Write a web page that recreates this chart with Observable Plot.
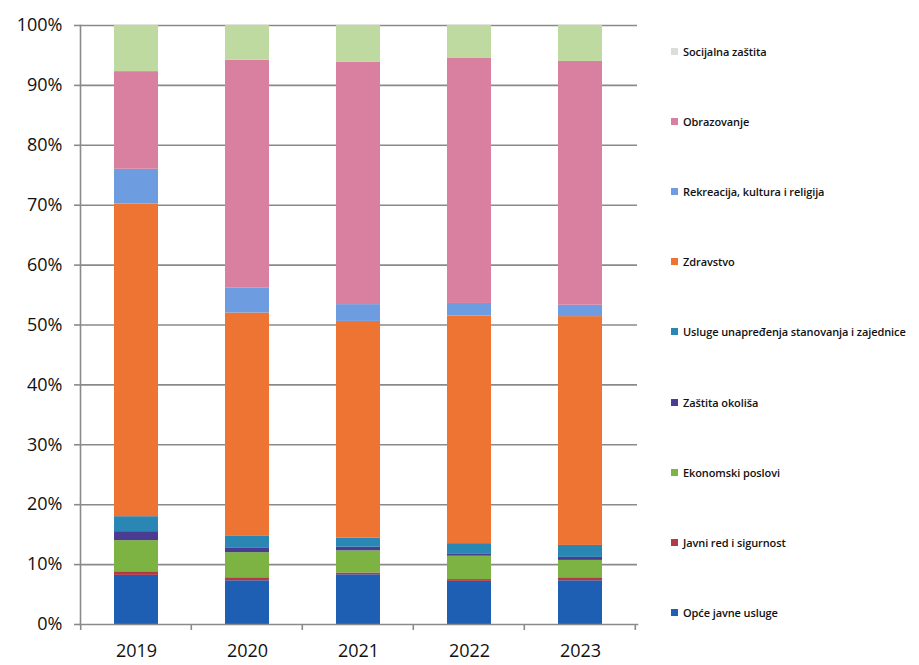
<!DOCTYPE html>
<html>
<head>
<meta charset="utf-8">
<script src="https://cdn.jsdelivr.net/npm/d3@7"></script>
<script src="https://cdn.jsdelivr.net/npm/@observablehq/plot@0.6"></script>
<style>
  html, body { margin: 0; padding: 0; background: #fff; }
  #wrap { position: relative; width: 919px; height: 665px; overflow: hidden; font-family: "Open Sans", sans-serif; }
  #chart { position: absolute; left: 0; top: 0; }
  #legend { position: absolute; left: 671px; top: 16px; }
  .item { height: 70.2px; display: flex; align-items: center; font-size: 11px; font-weight: 600; letter-spacing: -0.1px; color: #111; white-space: nowrap; }
  .sw { width: 7px; height: 7px; margin-right: 5px; flex: none; }
</style>
</head>
<body>
<div id="wrap">
  <div id="chart"></div>
  <div id="legend"></div>
</div>
<script>
const years = ["2019", "2020", "2021", "2022", "2023"];
const categories = [
  "Opće javne usluge",
  "Javni red i sigurnost",
  "Ekonomski poslovi",
  "Zaštita okoliša",
  "Usluge unapređenja stanovanja i zajednice",
  "Zdravstvo",
  "Rekreacija, kultura i religija",
  "Obrazovanje",
  "Socijalna zaštita"
];
const colors = ["#1e5eb3", "#b23a48", "#7db343", "#4b3c93", "#2a86b3", "#ee7434", "#6d9de0", "#d97f9f", "#bfdaa0"];
const legendSwatch = ["#1e5eb3", "#b23a48", "#7db343", "#4b3c93", "#2a86b3", "#ee7434", "#6d9de0", "#d97f9f", "#dcdcd8"];

const opceJavneUsluge   = [8.2, 7.3, 8.3, 7.2, 7.3];
const javniRed          = [0.6, 0.5, 0.3, 0.3, 0.5];
const ekonomskiPoslovi  = [5.2, 4.2, 3.7, 3.9, 2.9];
const zastitaOkolisa    = [1.5, 0.8, 0.6, 0.4, 0.5];
const uslugeStanovanja  = [2.5, 2.0, 1.5, 1.7, 2.0];
const zdravstvo         = [52.2, 37.2, 36.2, 38.0, 38.2];
const rekreacija        = [5.8, 4.2, 2.8, 2.1, 1.9];
const obrazovanje       = [16.3, 38.0, 40.5, 40.9, 40.7];
const socijalnaZastita  = [7.7, 5.8, 6.1, 5.5, 6.0];

const yTicks = [0, 0.1, 0.2, 0.3, 0.4, 0.5, 0.6, 0.7, 0.8, 0.9, 1.0];

const series = [opceJavneUsluge, javniRed, ekonomskiPoslovi, zastitaOkolisa, uslugeStanovanja, zdravstvo, rekreacija, obrazovanje, socijalnaZastita];
const data = [];
categories.forEach((c, i) => years.forEach((y, j) => data.push({year: y, category: c, value: series[i][j]})));

const plot = Plot.plot({
  width: 660,
  height: 665,
  marginTop: 25,
  marginBottom: 41,
  marginLeft: 80,
  marginRight: 23,
  style: {fontFamily: "Open Sans, sans-serif", color: "#111", background: "white"},
  x: {domain: years, paddingInner: 0.6, paddingOuter: 0.3, label: null},
  y: {domain: [0, 1], label: null},
  color: {domain: categories, range: colors},
  marks: [
    Plot.gridY(yTicks.filter(d => d > 0), {stroke: "#8a8a8a", strokeOpacity: 1, strokeWidth: 1.6}),
    Plot.barY(data, Plot.stackY({
      x: "year", y: "value", fill: "category", z: "category",
      order: categories, offset: "normalize"
    })),
    Plot.frame({anchor: "left", stroke: "#8a8a8a", strokeWidth: 1.6}),
    Plot.frame({anchor: "bottom", stroke: "#8a8a8a", strokeWidth: 1.6}),
    Plot.axisY(yTicks, {
      tickFormat: d3.format(".0%"), tickSize: 6, tickPadding: 12,
      fontSize: 18, fontWeight: 500, letterSpacing: 0.8, fill: "#111",
      stroke: "#8a8a8a", strokeWidth: 1.6, label: null
    }),
    Plot.axisX({tickSize: 0, tickPadding: 20, fontSize: 18, fontWeight: 500, letterSpacing: 0.8, fill: "#111", label: null})
  ]
});

document.getElementById("chart").appendChild(plot);

// category boundary ticks on the x axis, derived from the band scale
const xs = plot.scale("x");
const step = xs.step;
const bottom = 665 - 41;
const bounds = [xs.apply(years[0]) - xs.paddingOuter * step];
years.forEach(y => bounds.push(xs.apply(y) + xs.bandwidth + (xs.paddingInner * step) / 2));
bounds[bounds.length - 1] = xs.apply(years[years.length - 1]) + xs.bandwidth + xs.paddingOuter * step;
d3.select(plot).append("g")
  .selectAll("line").data(bounds).join("line")
  .attr("x1", d => d).attr("x2", d => d)
  .attr("y1", bottom).attr("y2", bottom + 6)
  .attr("stroke", "#8a8a8a").attr("stroke-width", 1.6);

// legend (top to bottom = reverse stacking order)
const legend = d3.select("#legend");
categories.map((c, i) => ({c, col: legendSwatch[i]})).reverse().forEach(d => {
  const it = legend.append("div").attr("class", "item");
  it.append("div").attr("class", "sw").style("background", d.col);
  it.append("span").text(d.c);
});
</script>
</body>
</html>
